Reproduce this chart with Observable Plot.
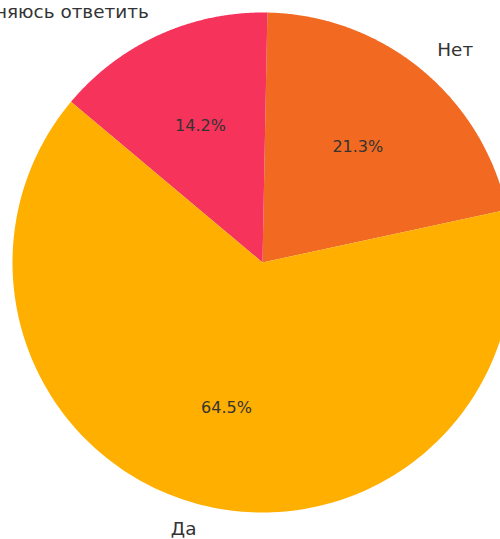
<!DOCTYPE html>
<html>
<head>
<meta charset="utf-8">
<script src="https://cdn.jsdelivr.net/npm/d3@7"></script>
<script src="https://cdn.jsdelivr.net/npm/@observablehq/plot@0.6"></script>
<style>
  html, body { margin: 0; padding: 0; background: #fff; }
  #chart svg { display: block; }
</style>
</head>
<body>
<div id="chart"></div>
<script>
const labels = ["Нет", "Затрудняюсь ответить", "Да"];
const values = [21.3, 14.2, 64.5];
const colors = ["#F26A22", "#F5335B", "#FFAF00"];
const startAngleDeg = 12.2; // counter-clockwise from east

const total = d3.sum(values);
const slices = [];
let cum = 0;
labels.forEach((label, i) => {
  const a0 = (startAngleDeg + 360 * cum / total) * Math.PI / 180;
  cum += values[i];
  const a1 = (startAngleDeg + 360 * cum / total) * Math.PI / 180;
  slices.push({label, value: values[i], a0, a1, mid: (a0 + a1) / 2});
});

// polygon vertices of each wedge in unit-radius coordinates
const wedgePoints = [];
for (const s of slices) {
  wedgePoints.push({label: s.label, x: 0, y: 0});
  const n = 200;
  for (let k = 0; k <= n; k++) {
    const a = s.a0 + (s.a1 - s.a0) * k / n;
    wedgePoints.push({label: s.label, x: Math.cos(a), y: Math.sin(a)});
  }
}

const pctLabels = slices.map(s => ({
  text: s.value.toFixed(1) + "%",
  x: 0.6 * Math.cos(s.mid), y: 0.6 * Math.sin(s.mid)
}));
const catLabels = slices.map(s => ({
  text: s.label,
  x: 1.1 * Math.cos(s.mid), y: 1.1 * Math.sin(s.mid)
}));

const W = 500, H = 539, R = 250, CX = 262, CY = 262;

const chart = Plot.plot({
  width: W,
  height: H,
  margin: 0,
  x: {domain: [-CX / R, (W - CX) / R], range: [0, W], axis: null},
  y: {domain: [-(H - CY) / R, CY / R], range: [H, 0], axis: null},
  color: {domain: labels, range: colors},
  style: {fontFamily: "DejaVu Sans, sans-serif", background: "#fff"},
  marks: [
    Plot.line(wedgePoints, {x: "x", y: "y", z: "label", fill: "label", stroke: null, curve: "linear"}),
    Plot.text(pctLabels, {x: "x", y: "y", text: "text", fontSize: 16, fill: "#333", textAnchor: "middle"}),
    Plot.text(catLabels.filter(d => d.x >= 0), {x: "x", y: "y", text: "text", fontSize: 18.4, fill: "#333", textAnchor: "start"}),
    Plot.text(catLabels.filter(d => d.x < 0), {x: "x", y: "y", text: "text", fontSize: 18.4, fill: "#333", textAnchor: "end"})
  ]
});
document.getElementById("chart").appendChild(chart);
</script>
</body>
</html>
